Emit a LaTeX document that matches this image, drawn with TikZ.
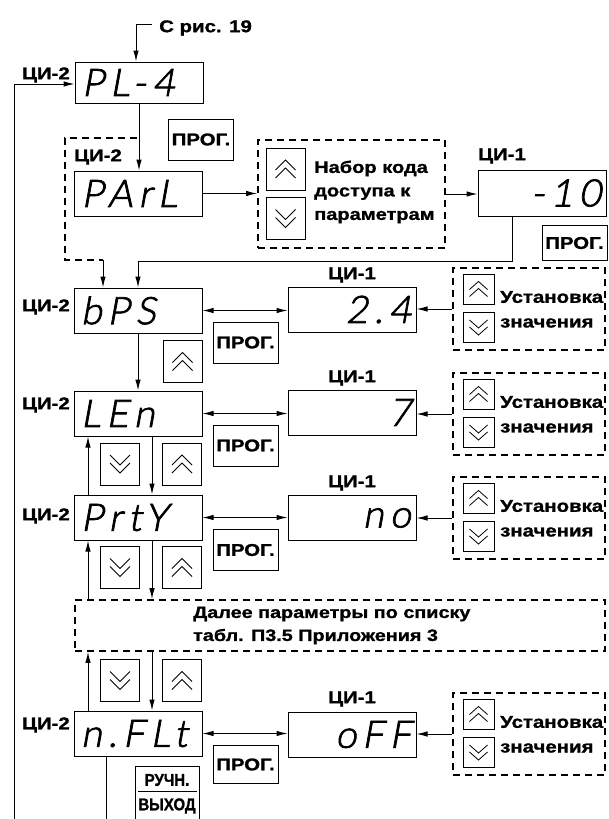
\documentclass[tikz,border=0pt]{standalone}
\usepackage{fontspec}
\usetikzlibrary{arrows.meta}
\newfontfamily\lblfam[FakeStretch=1.2,BoldFeatures={FakeBold=1.2}]{Liberation Sans}
\newfontfamily\narfam[FakeStretch=0.88,BoldFeatures={FakeBold=1.2}]{Liberation Sans}
\newfontfamily\segfam[LetterSpace=16,FakeSlant=0.18,FakeBold=2]{Lato Light}
\newcommand\lblf{\lblfam\bfseries\fontsize{17pt}{19pt}\selectfont}
\newcommand\kodef{\lblfam\bfseries\fontsize{16.7pt}{23.5pt}\selectfont}
\newcommand\dalf{\lblfam\bfseries\fontsize{16.5pt}{23pt}\selectfont}
\newcommand\smallf{\narfam\bfseries\fontsize{17pt}{18pt}\selectfont}
\newcommand\segf{\segfam\fontsize{38pt}{38pt}\selectfont}
\begin{document}
\begin{tikzpicture}[x=1pt,y=-1pt,
  every node/.style={font=\lblf, inner sep=0pt},
  ln/.style={line width=1pt},
  arr/.style={ln, -{Latex[length=11pt,width=5.5pt]}},
  darr/.style={ln, {Latex[length=11pt,width=5.5pt]}-{Latex[length=11pt,width=5.5pt]}},
  dsh/.style={line width=1.8pt, dash pattern=on 7pt off 5pt},
  dbox/.style={draw, dsh, minimum width=152pt, minimum height=82pt},
  dispL/.style={draw, line width=1pt, minimum height=45pt, text width=114pt, inner xsep=7pt, align=left, font=\segf},
  dispR/.style={dispL, align=right, text width=118pt, inner xsep=5pt},
  prog/.style={draw, line width=1pt, minimum width=65pt, minimum height=#1},
  prog/.default=41pt,
  chev/.style={line width=0.8pt},
  bigbtn/.style={draw, line width=1pt, minimum width=39pt, minimum height=42pt},
  smbtn/.style={draw, line width=1pt, minimum width=31pt, minimum height=30pt},
  upB/.style={bigbtn, path picture={
    \foreach \cc in {-4,4}{\draw[chev] ([shift={(-10,\cc+5)}]path picture bounding box.center) -- ++(10,-10) -- ++(10,10);}}},
  dnB/.style={bigbtn, path picture={
    \foreach \cc in {-4,4}{\draw[chev] ([shift={(-10,\cc-5)}]path picture bounding box.center) -- ++(10,10) -- ++(10,-10);}}},
  upS/.style={smbtn, path picture={
    \foreach \cc in {-3.5,3.5}{\draw[chev] ([shift={(-9,\cc+4)}]path picture bounding box.center) -- ++(9,-8) -- ++(9,8);}}},
  dnS/.style={smbtn, path picture={
    \foreach \cc in {-3.5,3.5}{\draw[chev] ([shift={(-9,\cc-4)}]path picture bounding box.center) -- ++(9,8) -- ++(9,-8);}}},
]
\useasboundingbox (0,0) rectangle (608,819);
\fill[white] (0,0) rectangle (608,819);

% top part
\node[anchor=west] (src) at (159,28) {С рис. 19};
\node[dispL, minimum height=41pt] (pl4) at (139,82.5) {PL-4};
\node[anchor=east] (l0) at (70,75) {ЦИ-2};
\node[prog] (p0) at (201,139.5) {ПРОГ.};
\node (l1) at (98,157) {ЦИ-2};
\node[dispL] (parl) at (138.5,193.5) {PArL};
\node[dbox, minimum width=187pt, minimum height=108pt] (kode) at (351.5,194) {};
\node[upB] (ku) at (285.5,169) {};
\node[dnB] (kd) at (285.5,218.5) {};
\node[anchor=west, align=left, font=\kodef] (kt) at (314,192) {Набор кода\\доступа к\\параметрам};
\node[dispR, minimum height=46pt] (m10) at (542,193) {-10};
\node (l2) at (502,156) {ЦИ-1};
\node[prog=35pt] (p1) at (574.5,243) {ПРОГ.};

% rows
\node[dispL] (bps) at (138,310.5) {bPS};
\node[anchor=east] (lb1) at (70,307) {ЦИ-2};
\node[prog] (p2) at (245.5,342.5) {ПРОГ.};
\node[upB] (b1) at (182.5,361.5) {};
\node[dispR] (v1) at (352,309.5) {2.4};
\node (lv1) at (352,275) {ЦИ-1};

\node[dispL] (len) at (138,413.5) {LEn};
\node[anchor=east] (lb2) at (70,405) {ЦИ-2};
\node[prog] (p3) at (245.5,445.5) {ПРОГ.};
\node[dispR] (v2) at (352,412.5) {7};
\node (lv2) at (352,378) {ЦИ-1};
\node[dnB] (b2) at (120,464) {};
\node[upB] (b3) at (182,464) {};

\node[dispL] (prty) at (138,517.5) {PrtY};
\node[anchor=east] (lb3) at (70,516) {ЦИ-2};
\node[prog] (p4) at (245.5,550) {ПРОГ.};
\node[dispR] (v3) at (352,518) {no};
\node (lv3) at (352,483) {ЦИ-1};
\node[dnB] (b4) at (120,567.5) {};
\node[upB] (b5) at (182,567.5) {};

\node[draw, dsh, minimum width=530pt, minimum height=51pt] (dalee) at (340,625.5) {};
\node[anchor=west, align=left, font=\dalf] (dt) at (193,625.5) {Далее параметры по списку\\табл. П3.5 Приложения 3};
\node[dnB] (b6) at (120,680.5) {};
\node[upB] (b7) at (182,680.5) {};

\node[dispL] (nflt) at (138,733.5) {n.FLt};
\node[anchor=east] (lb4) at (70,725) {ЦИ-2};
\node[prog=38pt] (p5) at (245.5,764.5) {ПРОГ.};
\node[dispR] (v4) at (352,734.5) {oFF};
\node (lv4) at (352,699) {ЦИ-1};
\node[draw, line width=1pt, minimum width=64pt, minimum height=62pt] (ruchn) at (167,797) {};
\node[font=\smallf] (rt1) at (167,780) {РУЧН.};
\node[font=\smallf] (rt2) at (167,806) {ВЫХОД};
\draw[ln] ([xshift=3pt,yshift=-26pt]ruchn.north west) -- ([xshift=-3pt,yshift=-26pt]ruchn.north east);

\foreach \i/\T in {1/268,2/373,3/477,4/693}{
  \node[dbox] (d\i) at (529,\T+41) {};
  \node[upS] (du\i) at (478.5,\T+21) {};
  \node[dnS] (dd\i) at (478.5,\T+59.5) {};
  \node[anchor=west] (dt\i) at (500,\T+29) {Установка};
  \node[anchor=west] (dz\i) at (500,\T+55) {значения};
}

% connectors
\coordinate (lb) at (14,819);
\coordinate (xu) at (88,0);
\coordinate (xd) at (152,0);
\coordinate (xb) at (106,819);
\coordinate (j1) at (138,261);
\coordinate (pd) at (103,260);

\draw[arr] ([xshift=-7pt,yshift=4pt]src.west) -| ([xshift=-3pt]pl4.north);
\draw[arr] (lb) |- ([yshift=-1.5pt]pl4.west);
\draw[arr] (pl4.south) -- (pl4.south |- parl.north);
\draw[dsh] (137,138) -- (65,138) -- (65,260) -- (pd);
\draw[arr] (pd) -- (pd |- bps.north);
\draw[arr] (parl.east) -- (kode.west |- parl.east);
\draw[arr] (kode.east) -- (m10.west |- kode.east);
\draw[arr] ([xshift=-30pt]m10.south) |- (j1) -- (j1 |- bps.north);

\draw[darr] (bps.east) -- (v1.west |- bps.east);
\draw[arr] (d1.west) -- (v1.east |- d1.west);
\draw[arr] (bps.south) -- (len.north);

\draw[darr] (len.east) -- (v2.west |- len.east);
\draw[arr] (d2.west) -- (v2.east |- d2.west);
\draw[arr] (xu |- prty.north) -- (xu |- len.south);
\draw[arr] (xd |- len.south) -- (xd |- prty.north);

\draw[darr] (prty.east) -- (v3.west |- prty.east);
\draw[arr] (d3.west) -- (v3.east |- d3.west);
\draw[arr] (xu |- dalee.north) -- (xu |- prty.south);
\draw[arr] (xd |- prty.south) -- (xd |- dalee.north);

\draw[arr] (xu |- nflt.north) -- (xu |- dalee.south);
\draw[arr] (xd |- dalee.south) -- (xd |- nflt.north);
\draw[darr] (nflt.east) -- (v4.west |- nflt.east);
\draw[arr] (d4.west) -- (v4.east |- d4.west);
\draw[ln] (xb |- nflt.south) -- (xb);
\end{tikzpicture}
\end{document}
